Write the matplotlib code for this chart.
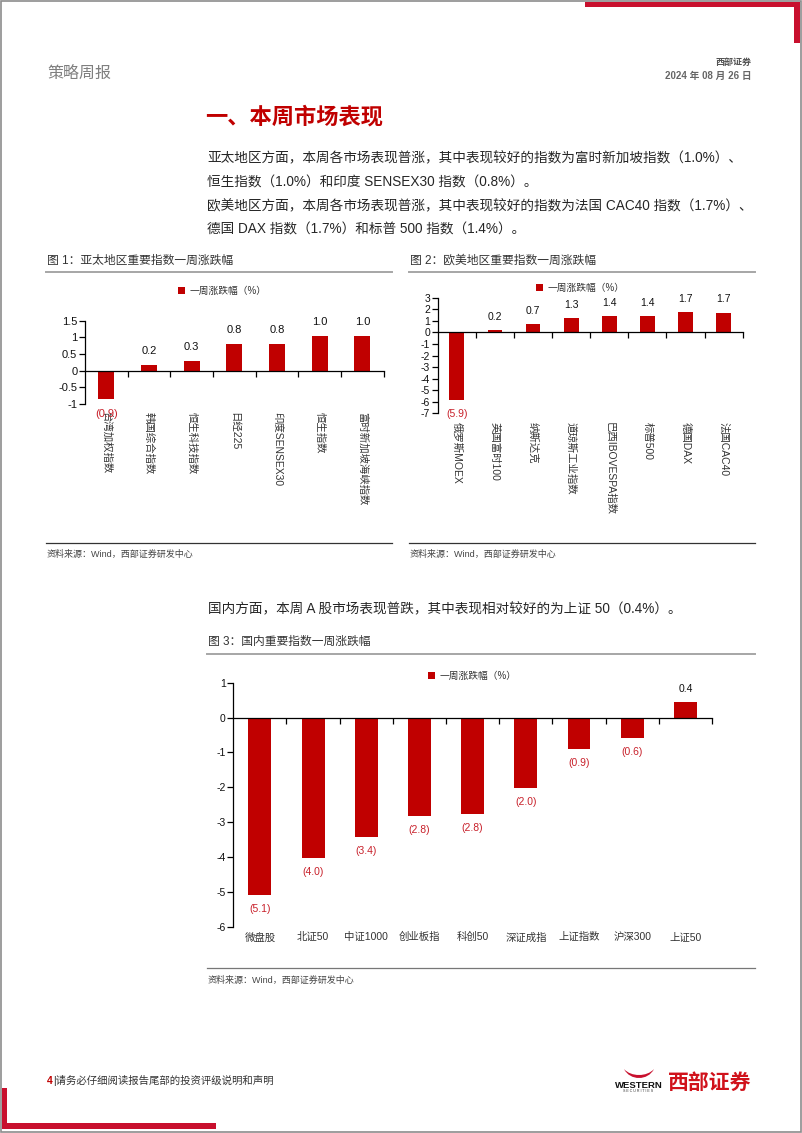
import matplotlib
matplotlib.use("Agg")
import matplotlib.pyplot as plt
import matplotlib.ticker as mticker
from matplotlib.patches import Rectangle, PathPatch
from matplotlib.path import Path
from matplotlib.lines import Line2D
from matplotlib.transforms import blended_transform_factory

W, H = 802, 1133
RED = "#C00000"
LABEL_RED = "#C8202A"
TEXT = "#262626"

plt.rcParams["font.family"] = ["Liberation Sans", "Noto Sans CJK SC"]
plt.rcParams["axes.unicode_minus"] = False

# Asia-Pacific indices, weekly change (%)
ap_names = ["台湾加权指数", "韩国综合指数", "恒生科技指数", "日经225",
            "印度SENSEX30", "恒生指数", "富时新加坡海峡指数"]
ap_values = [-0.86, 0.17, 0.29, 0.79, 0.81, 1.03, 1.04]
ap_yticks = [-1, -0.5, 0, 0.5, 1, 1.5]

# Europe / Americas indices
ew_names = ["俄罗斯MOEX", "英国富时100", "纳斯达克", "道琼斯工业指数",
            "巴西IBOVESPA指数", "标普500", "德国DAX", "法国CAC40"]
ew_values = [-5.87, 0.17, 0.72, 1.26, 1.38, 1.42, 1.72, 1.71]
ew_yticks = list(range(-7, 4))

# Domestic A-share indices
cn_names = ["微盘股", "北证50", "中证1000", "创业板指", "科创50",
            "深证成指", "上证指数", "沪深300", "上证50"]
cn_values = [-5.08, -4.04, -3.44, -2.82, -2.78, -2.03, -0.90, -0.59, 0.44]
cn_yticks = list(range(-6, 2))

SERIES = "一周涨跌幅（%）"
SOURCE = "资料来源：Wind，西部证券研发中心"

fig = plt.figure(figsize=(W / 100, H / 100), dpi=100)


def fx(x):
    return x / W


def fy(y):
    return 1 - y / H


def text(x, y, s, **kw):
    kw.setdefault("va", "center")
    kw.setdefault("color", TEXT)
    fig.text(fx(x), fy(y), s, **kw)


def hline(x0, x1, y, color, lw):
    fig.add_artist(Line2D([fx(x0), fx(x1)], [fy(y), fy(y)], color=color,
                          lw=lw, transform=fig.transFigure))


def rect(x0, y0, x1, y1, color):
    fig.add_artist(Rectangle((fx(x0), fy(y1)), fx(x1) - fx(x0), fy(y0) - fy(y1),
                             transform=fig.transFigure, color=color, lw=0))


def bar_chart(box, names, values, yticks, width, fs, name_fs, pos_off, neg_off,
              name_pad, rotate, legend_xy):
    left, top, right, bottom = box
    ax = fig.add_axes([fx(left), fy(bottom), fx(right) - fx(left), fy(top) - fy(bottom)])
    n = len(values)
    ax.bar(range(n), values, width=width, color=RED, label=SERIES, zorder=2)
    ax.set_xlim(-0.5, n - 0.5)
    ax.set_ylim(yticks[0], yticks[-1])
    ax.set_yticks(yticks)
    ax.yaxis.set_major_formatter(mticker.FormatStrFormatter("%g"))
    ax.spines[["top", "right"]].set_visible(False)
    ax.spines["bottom"].set_position(("data", 0))
    for sp in ("left", "bottom"):
        ax.spines[sp].set_linewidth(0.9)
    ax.set_xticks([i + 0.5 for i in range(n)])
    ax.set_xticklabels([])
    ax.tick_params(axis="x", direction="out", length=4, width=0.9)
    ax.tick_params(axis="y", direction="out", length=4, width=0.9,
                   labelsize=fs, pad=1.5, labelcolor="#111")
    ax.patch.set_alpha(0)

    trans = blended_transform_factory(ax.transData, ax.transAxes)
    for i, name in enumerate(names):
        ax.annotate(name, xy=(i, 0), xycoords=trans, xytext=(0, -name_pad),
                    textcoords="offset points", ha="center", va="top",
                    rotation=-90 if rotate else 0, fontsize=name_fs, color="#333")
    for i, v in enumerate(values):
        if v >= 0:
            ax.annotate(f"{v:.1f}", xy=(i, v), xytext=(0, pos_off),
                        textcoords="offset points", ha="center", va="center",
                        fontsize=fs, color="#111")
        else:
            ax.annotate(f"({abs(v):.1f})", xy=(i, v), xytext=(0, -neg_off),
                        textcoords="offset points", ha="center", va="center",
                        fontsize=fs, color=LABEL_RED)
    ax.legend(loc="center", bbox_to_anchor=(fx(legend_xy[0]), fy(legend_xy[1])),
              bbox_transform=fig.transFigure, frameon=False, fontsize=7,
              handlelength=0.75, handleheight=0.75, handletextpad=0.4,
              labelcolor="#333", borderpad=0)
    return ax


# page frame and decoration
fig.add_artist(Rectangle((0.0008, 0.0008), 0.9984, 0.9984, transform=fig.transFigure,
                         fill=False, edgecolor="#8c8c8c", lw=1.2))
rect(585, 2, 800, 7, "#C8102E")
rect(794, 2, 800, 43, "#C8102E")
rect(2, 1088, 7, 1129, "#C8102E")
rect(2, 1123, 216, 1129, "#C8102E")

# header
text(47, 73, "策略周报", fontsize=11.5, color="#7f7f7f")
text(752, 62, "西部证券", fontsize=6.5, color="#555", ha="right", fontweight="bold")
text(752, 76, "2024 年 08 月 26 日", fontsize=7, color="#666", ha="right", fontweight="bold")

text(205, 118, "一、本周市场表现", fontsize=16, color=RED, fontweight="bold")
text(207, 158, "亚太地区方面，本周各市场表现普涨，其中表现较好的指数为富时新加坡指数（1.0%）、", fontsize=9.8)
text(207, 182, "恒生指数（1.0%）和印度 SENSEX30 指数（0.8%）。", fontsize=9.8)
text(207, 206, "欧美地区方面，本周各市场表现普涨，其中表现较好的指数为法国 CAC40 指数（1.7%）、", fontsize=9.8)
text(207, 229, "德国 DAX 指数（1.7%）和标普 500 指数（1.4%）。", fontsize=9.8)

# figure 1 / 2 captions
text(47, 261, "图 1：亚太地区重要指数一周涨跌幅", fontsize=8.5, color="#333")
hline(46, 392, 272, "#a6a6a6", 1.4)
text(410, 261, "图 2：欧美地区重要指数一周涨跌幅", fontsize=8.5, color="#333")
hline(409, 755, 272, "#a6a6a6", 1.4)

bar_chart((85, 320.7, 383.7, 404), ap_names, ap_values, ap_yticks, 0.37,
          8, 7.5, 10, 10.5, 6, True, (222, 291))
bar_chart((437.8, 297.7, 742.6, 413.3), ew_names, ew_values, ew_yticks, 0.39,
          7.5, 7.5, 9.5, 10, 6, True, (580, 288))

hline(46, 392, 543, "#333", 0.9)
text(47, 554, SOURCE, fontsize=6.5, color="#444")
hline(409, 755, 543, "#333", 0.9)
text(410, 554, SOURCE, fontsize=6.5, color="#444")

# domestic
text(208, 609, "国内方面，本周 A 股市场表现普跌，其中表现相对较好的为上证 50（0.4%）。", fontsize=9.8)
text(208, 642, "图 3：国内重要指数一周涨跌幅", fontsize=8.5, color="#333")
hline(207, 755, 654, "#a6a6a6", 1.4)

bar_chart((233.3, 682.7, 712, 926.7), cn_names, cn_values, cn_yticks, 0.43,
          7.5, 7.5, 9.5, 10, 4, False, (472, 676))

hline(207, 755, 968, "#777", 0.9)
text(208, 980, SOURCE, fontsize=6.5, color="#444")

# footer
text(47, 1081, "4", fontsize=7.5, color=RED, fontweight="bold")
text(53, 1081, "|请务必仔细阅读报告尾部的投资评级说明和声明", fontsize=7.5, color="#333")

horn = Path([(624, 1069), (630, 1081), (648, 1081), (654, 1069),
             (647, 1077), (631, 1077), (624, 1069)],
            [Path.MOVETO, Path.CURVE4, Path.CURVE4, Path.CURVE4,
             Path.CURVE4, Path.CURVE4, Path.CURVE4])
horn = Path([(fx(x), fy(y)) for x, y in horn.vertices], horn.codes)
fig.add_artist(PathPatch(horn, transform=fig.transFigure, color="#C8102E", lw=0))
text(638.5, 1085, "WESTERN", fontsize=6.8, color="#111", ha="center", fontweight="bold")
text(638.5, 1091.5, "S E C U R I T I E S", fontsize=2.6, color="#333", ha="center")
text(668, 1083, "西部证券", fontsize=15, color="#D0121B", fontweight="bold")

fig.savefig("out.png", dpi=100)
